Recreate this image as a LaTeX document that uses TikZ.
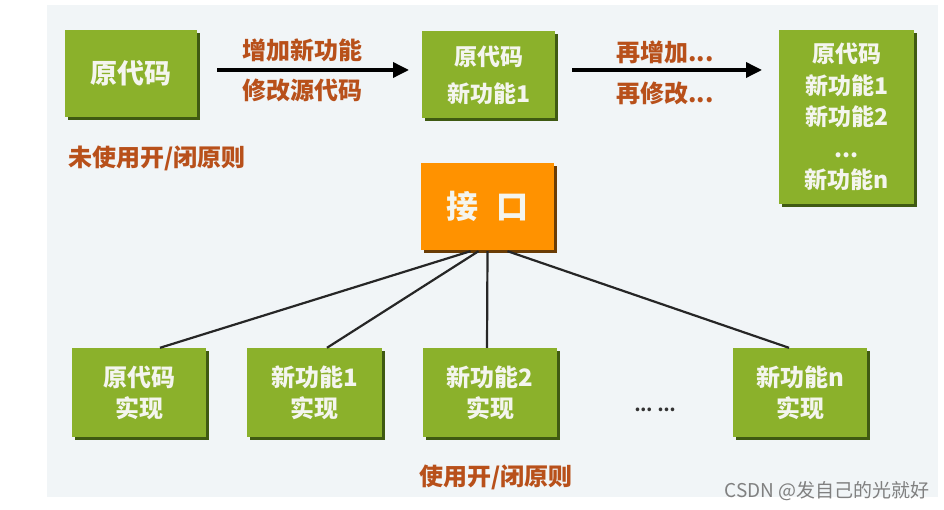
\documentclass[tikz,border=0pt]{standalone}
\usepackage{fontspec}
\setmainfont{Noto Sans CJK SC}
\usetikzlibrary{shadows,arrows.meta,calc}
\definecolor{bg}{HTML}{F1F5F7}
\definecolor{boxgreen}{HTML}{8BB12B}
\definecolor{shadegreen}{HTML}{3F5A12}
\definecolor{ifaceorange}{HTML}{FF9200}
\definecolor{shadeorange}{HTML}{6A3C05}
\definecolor{labelbrown}{HTML}{B8501A}
\definecolor{boxtext}{HTML}{F4F5EE}
\tikzset{
  gbox/.style={fill=boxgreen, draw=none, inner sep=0pt, align=center,
    text=boxtext, font=\fontsize{24}{31}\selectfont\bfseries,
    drop shadow={shadow xshift=3pt, shadow yshift=-3pt, fill=shadegreen, opacity=1}},
  obox/.style={fill=ifaceorange, draw=none, inner sep=0pt, align=center,
    text=boxtext, font=\fontsize{32}{34}\selectfont\bfseries,
    drop shadow={shadow xshift=3pt, shadow yshift=-3pt, fill=shadeorange, opacity=1}},
  lbl/.style={text=labelbrown, font=\fontsize{24}{26}\selectfont\bfseries, inner sep=0pt},
  bigarrow/.style={line width=3.5pt, -{Triangle[length=16pt,width=15pt]}},
  link/.style={line width=2.2pt, draw=black!85}
}
\begin{document}
\begin{tikzpicture}[x=1pt,y=-1pt]
\useasboundingbox (0,0) rectangle (944,510);
\fill[white] (0,0) rectangle (944,510);
\fill[bg] (47,5) rectangle (938,497);

% top row
\node[gbox, minimum width=132pt, minimum height=87pt, font=\fontsize{27}{31}\selectfont\bfseries] (a) at (131,73.5) {原代码};
\node[gbox, minimum width=133pt, minimum height=87pt, font=\fontsize{23}{37}\selectfont\bfseries] (b) at (488.5,75) {原代码\\新功能1};
\node[gbox, minimum width=135pt, minimum height=174pt, font=\fontsize{23}{31.5}\selectfont\bfseries] (c) at (846.5,117)
  {原代码\\新功能1\\新功能2\\...\\新功能n};

\coordinate (a1s) at (217,70);
\coordinate (a1e) at (409,70);
\draw[bigarrow] (a1s) -- (a1e);
\node[lbl] (l1) at (302,50) {增加新功能};
\node[lbl] (l2) at (302,90) {修改源代码};

\coordinate (a2s) at (572,70);
\coordinate (a2e) at (762,70);
\draw[bigarrow] (a2s) -- (a2e);
\node[lbl] (l3) at (665,52) {再增加...};
\node[lbl] (l4) at (665,93) {再修改...};

\node[lbl, anchor=west] (no) at (68,158) {未使用开/闭原则};

% interface
\node[obox, minimum width=133pt, minimum height=87pt] (iface) at (487.5,206.5) {接\hspace{0.55em}口};

% bottom row
\node[gbox, minimum width=134pt, minimum height=89pt] (b1) at (139,392.5) {原代码\\实现};
\node[gbox, minimum width=135pt, minimum height=89pt] (b2) at (314.5,392.5) {新功能1\\实现};
\node[gbox, minimum width=134pt, minimum height=89pt] (b3) at (490,392.5) {新功能2\\实现};
\node[gbox, minimum width=134pt, minimum height=89pt] (b4) at (800,392.5) {新功能n\\实现};
\node[text=black!80, font=\fontsize{17}{17}\selectfont\bfseries] (dots) at (655,410) {... ...};

\draw[link] ($(iface.south)+(-17,1)$) -- ($(b1.north)+(21,0)$);
\draw[link] ($(iface.south)+(-9,1)$) -- ($(b2.north)+(12.5,0)$);
\draw[link] ($(iface.south)+(0,1)$) -- ($(b3.north)+(-3,0)$);
\draw[link] ($(iface.south)+(20,1)$) -- ($(b4.north)+(-11,0)$);

\node[lbl] (yes) at (496,477) {使用开/闭原则};

\node[text=black!50, font=\fontsize{19}{19}\selectfont, anchor=east, inner sep=0pt] (wm) at (930,491) {CSDN @发自己的光就好};
\end{tikzpicture}
\end{document}
